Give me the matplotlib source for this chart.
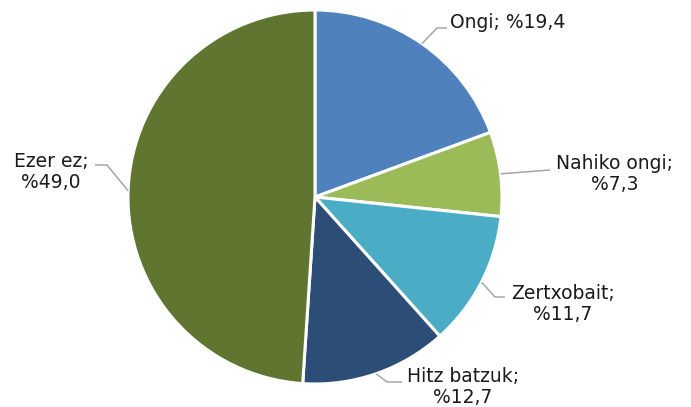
import numpy as np
import matplotlib.pyplot as plt

labels = ["Ongi", "Nahiko ongi", "Zertxobait", "Hitz batzuk", "Ezer ez"]
values = [19.4, 7.3, 11.7, 12.7, 49.0]
colors = ["#4F81BD", "#9BBB59", "#4BACC6", "#2C4D75", "#5F7530"]

W, H = 691, 407
fig = plt.figure(figsize=(W / 100, H / 100), dpi=100)
ax = fig.add_axes([0, 0, 1, 1])

cx, cy, r = 315, H - 197, 187
wedges, _ = ax.pie(values, colors=colors, startangle=90, counterclock=False,
                   center=(cx, cy), radius=r, normalize=True,
                   wedgeprops=dict(edgecolor="white", linewidth=2.2))
ax.set_xlim(0, W)
ax.set_ylim(0, H)
ax.set_aspect("auto")
ax.axis("off")

# label layout in pixel coords (top-left origin): elbow, line end, text pos, ha
layout = [
    ((437, 28), (447, 28), (450, 22), "left", "Ongi; %19,4"),
    ((550, 170), (550, 170), (615, 174), "center", "Nahiko ongi;\n%7,3"),
    ((495, 297), (505, 297), (563, 304), "center", "Zertxobait;\n%11,7"),
    ((387, 382), (402, 382), (463, 387), "center", "Hitz batzuk;\n%12,7"),
    ((107, 165), (95, 165), (51, 172), "center", "Ezer ez;\n%49,0"),
]

for w, (elbow, end, tpos, ha, txt) in zip(wedges, layout):
    ang = np.deg2rad((w.theta1 + w.theta2) / 2)
    sx, sy = cx + r * np.cos(ang), cy + r * np.sin(ang)
    ax.plot([sx, elbow[0], end[0]], [sy, H - elbow[1], H - end[1]],
            color="#A6A6A6", linewidth=1.1, solid_capstyle="butt")
    ax.text(tpos[0], H - tpos[1], txt, ha=ha, va="center", fontsize=13.5,
            color="#1a1a1a", multialignment="center", linespacing=1.15)

fig.savefig("out.png", dpi=100)
